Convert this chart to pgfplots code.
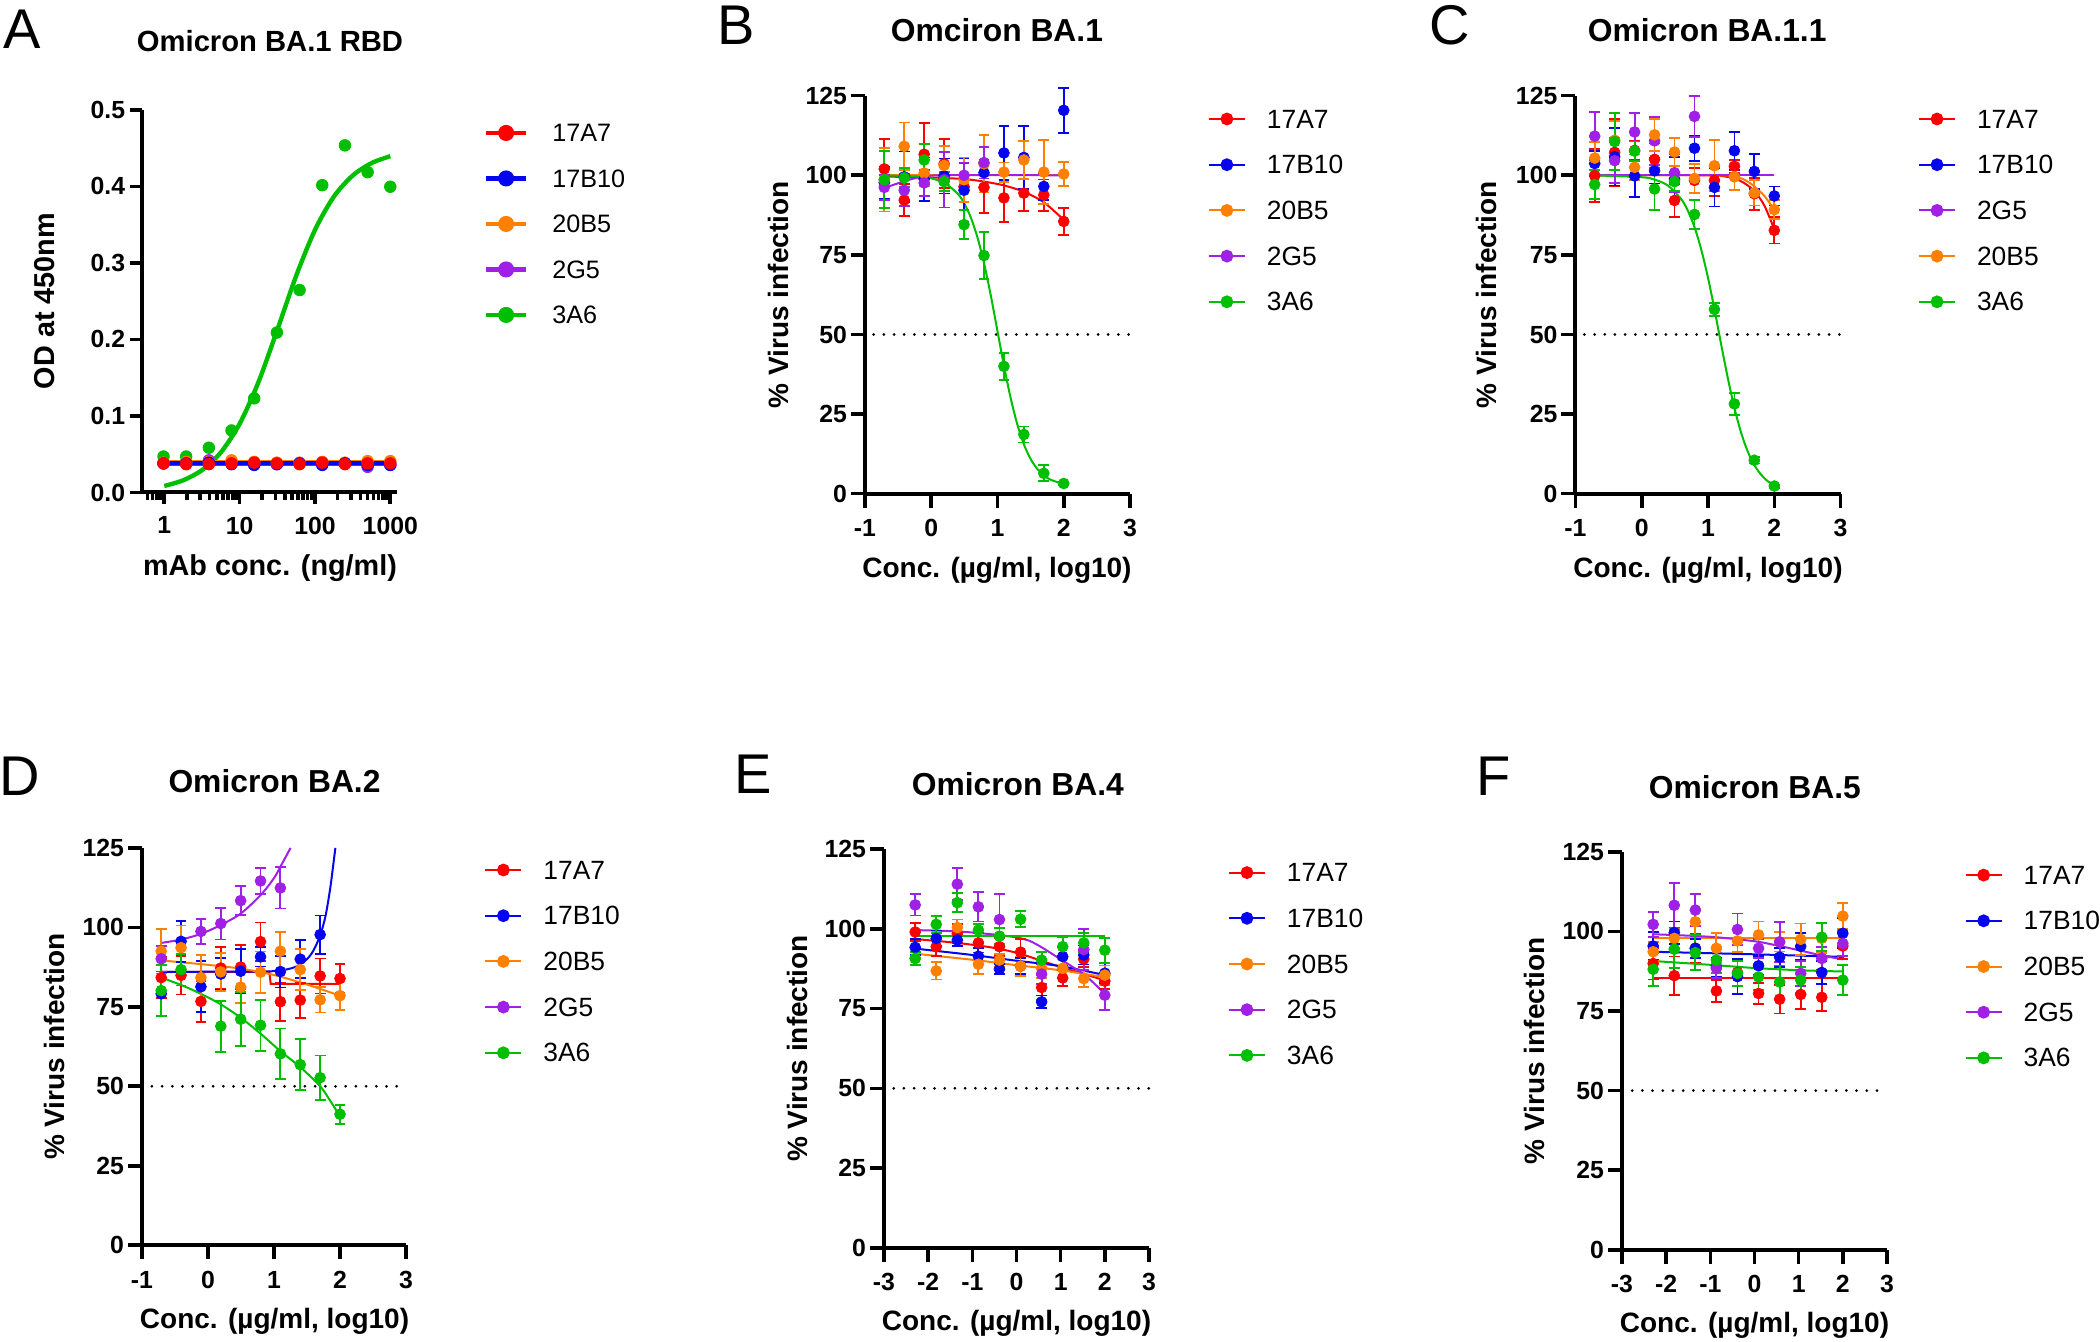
\documentclass[border=0pt]{standalone}
\usepackage{fontspec}
\setmainfont{Liberation Sans}
\usepackage{pgfplots}
\pgfplotsset{compat=1.18}
\definecolor{cR}{RGB}{255,0,0}
\definecolor{cB}{RGB}{5,5,240}
\definecolor{cO}{RGB}{255,128,0}
\definecolor{cP}{RGB}{160,32,230}
\definecolor{cG}{RGB}{0,190,0}
\pgfplotsset{
  base/.style={
    scale only axis, clip=false, anchor=south west,
    axis lines=left, axis line style={-, line width=2pt},
    tick align=outside, tick style={line width=1.8pt, black},
    /pgf/number format/assume math mode=true,
    ticklabel style={font=\bfseries\fontsize{12.4}{14}\selectfont},
    yticklabel style={xshift=1.5pt},
    xticklabel style={yshift=-2.4pt},
    xlabel style={font=\bfseries\fontsize{14}{16}\selectfont, anchor=center},
    ylabel style={font=\bfseries\fontsize{14}{16}\selectfont, anchor=center},
    title style={font=\bfseries\fontsize{15.9}{18}\selectfont, anchor=center},
    legend cell align=left,
    legend style={draw=none, fill=none, anchor=north west, inner sep=0pt, outer sep=0pt,
      row sep=13.85pt, column sep=10.5pt,
      nodes={inner sep=0pt, text height=9pt, text depth=0pt},
      font=\fontsize{13.2}{15}\selectfont},
    legend image code/.code={\draw[mark repeat=2,mark phase=2,##1] plot coordinates {(0pt,0pt) (9pt,0pt) (18pt,0pt)};},
  },
  neut/.style={base, xmin=-1, xmax=3, ymin=0, ymax=125,
    xtick={-1,0,1,2,3}, xticklabels={-1,0,1,2,3},
    ytick={0,25,50,75,100,125}, yticklabels={0,25,50,75,100,125},
    major tick length=7pt,
    xlabel={Conc. (µg/ml, log10)}, ylabel={\% Virus infection},
    width=132.5pt, height=199pt},
  pts/.style={only marks, mark=*, mark size=2.7pt, mark options={solid}, forget plot,
    error bars/y dir=both, error bars/y explicit,
    error bars/error bar style={line width=0.9pt, solid},
    error bars/error mark options={rotate=90, mark size=2.7pt, line width=0.9pt}},
  crv/.style={line width=1pt, no markers, forget plot},
  half/.style={black, line width=1.5pt, dash pattern=on 0pt off 5.1pt, line cap=round, forget plot, no markers},
  lg/.style={line width=1pt, mark=*, mark size=2.7pt, mark options={solid}},
}
\begin{document}
\begin{tikzpicture}
\useasboundingbox (0,0) rectangle (1050pt,671pt);
% panel letters
\node[font=\fontsize{28}{32}\selectfont] at (11pt,656.6pt) {A};
\node[font=\fontsize{28}{32}\selectfont] at (367.9pt,658.5pt) {B};
\node[font=\fontsize{28}{32}\selectfont] at (725pt,658.5pt) {C};
\node[font=\fontsize{28}{32}\selectfont] at (10pt,282.8pt) {D};
\node[font=\fontsize{28}{32}\selectfont] at (376.8pt,283.8pt) {E};
\node[font=\fontsize{28}{32}\selectfont] at (746.9pt,282.8pt) {F};

% ---------------- A ----------------
\begin{axis}[base, at={(71pt,424.75pt)}, width=127.5pt, height=191.35pt,
  xmode=log, xmin=0.506, xmax=1227, ymin=0, ymax=0.5,
  xtick={1,10,100,1000}, xticklabels={1,10,100,1000},
  minor xtick={0.6,0.7,0.8,0.9,2,3,4,5,6,7,8,9,20,30,40,50,60,70,80,90,200,300,400,500,600,700,800,900},
  ytick={0,0.1,0.2,0.3,0.4,0.5}, yticklabels={0.0,0.1,0.2,0.3,0.4,0.5},
  major tick length=6pt, minor tick length=4pt,
  yticklabel style={xshift=-0.4pt}, xticklabel style={yshift=-0.2pt},
  xlabel={mAb conc. (ng/ml)}, ylabel={OD at 450nm},
  xlabel style={at={(axis description cs:0.502,-0.198)}, font=\bfseries\fontsize{14.4}{16}\selectfont},
  ylabel style={at={(axis description cs:-0.382,0.5)}, font=\bfseries\fontsize{14.4}{16}\selectfont},
  title={Omicron BA.1 RBD}, title style={at={(0.502,1.147)}, font=\bfseries\fontsize{14.6}{17}\selectfont},
  legend style={at={(1.341,0.963)}, row sep=13.75pt, column sep=12pt, font=\fontsize{12.6}{15}\selectfont},
  legend image code/.code={\draw[mark repeat=2,mark phase=2,#1] plot coordinates {(0pt,0pt) (10pt,0pt) (20pt,0pt)};},
]
\addplot[cG, line width=2.2pt, smooth, no markers, forget plot] coordinates {(1,0.0085) (1.778,0.0159) (3.162,0.0292) (5.623,0.0523) (10,0.0897) (17.78,0.1442) (31.62,0.2124) (56.23,0.2829) (100,0.343) (177.8,0.3864) (316.2,0.414) (562.3,0.4303) (1000,0.4394)};
\addplot[cO, line width=2.2pt, no markers, forget plot] coordinates {(0.977,0.040) (1000,0.040)};
\addplot[cP, line width=2.2pt, no markers, forget plot] coordinates {(0.977,0.038) (1000,0.038)};
\addplot[cR, line width=2.2pt, no markers, forget plot] coordinates {(0.977,0.038) (1000,0.038)};
\addplot[cB, line width=2.2pt, no markers, forget plot] coordinates {(0.977,0.0382) (1000,0.0382)};
\addplot[cG, only marks, mark=*, mark size=2.9pt, forget plot] coordinates {(0.977,0.047) (1.953,0.047) (3.906,0.0585) (7.8125,0.081) (15.625,0.123) (31.25,0.209) (62.5,0.2645) (125,0.4015) (250,0.4535) (500,0.4185) (1000,0.3995)};
\addplot[cP, only marks, mark=*, mark size=2.9pt, forget plot] coordinates {(0.977,0.038) (1.953,0.039) (3.906,0.042) (7.8125,0.039) (15.625,0.037) (31.25,0.037) (62.5,0.038) (125,0.037) (250,0.038) (500,0.0335) (1000,0.036)};
\addplot[cO, only marks, mark=*, mark size=2.9pt, forget plot] coordinates {(0.977,0.039) (1.953,0.040) (3.906,0.040) (7.8125,0.042) (15.625,0.040) (31.25,0.039) (62.5,0.039) (125,0.040) (250,0.039) (500,0.041) (1000,0.041)};
\addplot[cB, only marks, mark=*, mark size=2.9pt, forget plot] coordinates {(0.977,0.038) (1.953,0.038) (3.906,0.039) (7.8125,0.037) (15.625,0.036) (31.25,0.037) (62.5,0.038) (125,0.036) (250,0.038) (500,0.036) (1000,0.036)};
\addplot[cR, only marks, mark=*, mark size=2.9pt, forget plot] coordinates {(0.977,0.038) (1.953,0.037) (3.906,0.037) (7.8125,0.038) (15.625,0.039) (31.25,0.038) (62.5,0.037) (125,0.039) (250,0.037) (500,0.038) (1000,0.038)};
\addlegendimage{cR, line width=2.2pt, mark=*, mark size=2.9pt}\addlegendentry{17A7}
\addlegendimage{cB, line width=2.2pt, mark=*, mark size=2.9pt}\addlegendentry{17B10}
\addlegendimage{cO, line width=2.2pt, mark=*, mark size=2.9pt}\addlegendentry{20B5}
\addlegendimage{cP, line width=2.2pt, mark=*, mark size=2.9pt}\addlegendentry{2G5}
\addlegendimage{cG, line width=2.2pt, mark=*, mark size=2.9pt}\addlegendentry{3A6}
\end{axis}

% ---------------- B ----------------
\begin{axis}[neut, at={(432.5pt,424.15pt)},
  title={Omciron BA.1}, title style={at={(0.498,1.135)}},
  xlabel style={at={(axis description cs:0.498,-0.192)}},
  ylabel style={at={(axis description cs:-0.328,0.5)}},
  legend style={at={(1.294,0.964)}}]
\addplot[half] coordinates {(-0.87,50) (3,50)};
\addplot[cR, crv, smooth] coordinates {(-0.709,99.6) (0,99.3) (0.5,98.8) (0.8,98.0) (1.1,96.8) (1.4,94.8) (1.7,91.5) (2.0,86)};
\addplot[cB, crv] coordinates {(-0.709,100) (2.0,100)};
\addplot[cO, crv] coordinates {(-0.709,100) (2.0,100)};
\addplot[cP, crv, smooth] coordinates {(-0.709,96) (-0.5,97.5) (-0.3,98.8) (-0.1,99.6) (0.2,100) (2.0,100)};
\addplot[cG, crv, smooth] coordinates {(-0.709,99.96) (-0.2,99.6) (0,99.03) (0.2,97.6) (0.4,94.2) (0.5,91.1) (0.6,86.6) (0.7,80.3) (0.8,72.1) (0.9,62.1) (1.0,51) (1.1,39.9) (1.2,29.9) (1.3,21.7) (1.4,15.4) (1.5,10.9) (1.6,7.8) (1.7,5.75) (1.8,4.4) (2.0,2.97)};
\addplot[cR, pts] coordinates {(-0.709,102.0) +- (0,9.3) (-0.408,92.2) +- (0,5) (-0.107,106.6) +- (0,9.7) (0.194,103.6) +- (0,7.7) (0.495,96.4) +- (0,7.3) (0.796,96.2) +- (0,8) (1.097,92.9) +- (0,7.6) (1.398,94.4) +- (0,5.5) (1.699,93.8) +- (0,4.9) (2.0,85.5) +- (0,4.3)};
\addplot[cB, pts] coordinates {(-0.709,97.7) +- (0,5) (-0.408,99.5) +- (0,8) (-0.107,98.8) +- (0,6.8) (0.194,99.8) +- (0,5.5) (0.495,95.3) +- (0,10) (0.796,100.8) +- (0,4) (1.097,107.0) +- (0,8.4) (1.398,105.6) +- (0,10) (1.699,96.5) +- (0,4.2) (2.0,120.4) +- (0,7)};
\addplot[cO, pts] coordinates {(-0.709,98.6) +- (0,10) (-0.408,109.1) +- (0,7.5) (-0.107,100.7) +- (0,4) (0.194,103.1) +- (0,6) (0.495,98.6) +- (0,7) (0.796,103.6) +- (0,9) (1.097,101.0) +- (0,3) (1.398,104.8) +- (0,6) (1.699,101.0) +- (0,10) (2.0,100.4) +- (0,3.8)};
\addplot[cP, pts] coordinates {(-0.709,96.2) +- (0,4) (-0.408,95.3) +- (0,5) (-0.107,97.6) +- (0,4) (0.194,98.6) +- (0,8.7) (0.495,100.0) +- (0,4) (0.796,104.0) +- (0,5)};
\addplot[cG, pts] coordinates {(-0.709,98.6) +- (0,9) (-0.408,99.2) +- (0,3) (-0.107,104.8) +- (0,5) (0.194,98.0) +- (0,3) (0.495,84.5) +- (0,4.5) (0.796,74.8) +- (0,7.4) (1.097,40.0) +- (0,4.3) (1.398,18.6) +- (0,2.5) (1.699,6.4) +- (0,2.5) (2.0,3.2) +- (0,0.5)};
\addlegendimage{cR, lg}\addlegendentry{17A7}
\addlegendimage{cB, lg}\addlegendentry{17B10}
\addlegendimage{cO, lg}\addlegendentry{20B5}
\addlegendimage{cP, lg}\addlegendentry{2G5}
\addlegendimage{cG, lg}\addlegendentry{3A6}
\end{axis}

% ---------------- C ----------------
\begin{axis}[neut, at={(787.7pt,424.15pt)}, width=132.6pt,
  title={Omicron BA.1.1}, title style={at={(0.497,1.135)}},
  xlabel style={at={(axis description cs:0.5,-0.192)}},
  ylabel style={at={(axis description cs:-0.334,0.5)}},
  legend style={at={(1.292,0.964)}}]
\addplot[half] coordinates {(-0.865,50) (3,50)};
\addplot[cR, crv, smooth] coordinates {(-0.709,100) (1.0,100) (1.2,99.8) (1.4,99) (1.55,97.5) (1.7,95) (1.85,90.5) (2.0,83)};
\addplot[cB, crv] coordinates {(-0.709,100) (2.0,100)};
\addplot[cO, crv, smooth] coordinates {(-0.709,100) (1.2,100) (1.4,99.6) (1.55,98.6) (1.7,96.5) (1.85,93.5) (2.0,89.2)};
\addplot[cP, crv] coordinates {(-0.709,100) (2.0,100)};
\addplot[cG, crv, smooth] coordinates {(-0.709,99.97) (0,99.4) (0.2,98.6) (0.4,96.7) (0.6,92.4) (0.7,88.7) (0.8,83.5) (0.9,76.5) (1.0,67.8) (1.1,57.6) (1.2,46.7) (1.3,36.2) (1.4,26.8) (1.5,19.1) (1.6,13.2) (1.7,8.96) (1.8,5.98) (1.9,3.94) (2.0,2.58)};
\addplot[cR, pts] coordinates {(-0.709,99.9) +- (0,8.3) (-0.408,107.2) +- (0,10.6) (-0.107,107.8) +- (0,3) (0.194,105.0) +- (0,5) (0.495,92.1) +- (0,5.2) (0.796,98.4) +- (0,4) (1.097,98.4) +- (0,5) (1.398,102.8) +- (0,2) (1.699,94.2) +- (0,5) (2.0,82.7) +- (0,4.1)};
\addplot[cB, pts] coordinates {(-0.709,103.7) +- (0,4) (-0.408,105.8) +- (0,9) (-0.107,99.8) +- (0,6.7) (0.194,101.4) +- (0,4) (0.495,98.8) +- (0,7) (0.796,108.5) +- (0,4) (1.097,96.2) +- (0,6) (1.398,107.7) +- (0,6) (1.699,101.2) +- (0,5.5) (2.0,93.5) +- (0,3)};
\addplot[cP, pts] coordinates {(-0.709,112.3) +- (0,7.5) (-0.408,104.6) +- (0,7) (-0.107,113.6) +- (0,6) (0.194,110.8) +- (0,7.5) (0.495,100.8) +- (0,6) (0.796,118.5) +- (0,6.5)};
\addplot[cO, pts] coordinates {(-0.709,105.4) +- (0,5) (-0.408,111.0) +- (0,6) (-0.107,102.5) +- (0,4) (0.194,112.7) +- (0,5) (0.495,107.3) +- (0,4.5) (0.796,99.0) +- (0,4.5) (1.097,103.0) +- (0,8) (1.398,99.5) +- (0,4) (1.699,94.5) +- (0,4) (2.0,89.2) +- (0,3)};
\addplot[cG, pts] coordinates {(-0.709,97.1) +- (0,4.5) (-0.408,110.6) +- (0,9) (-0.107,107.6) +- (0,3) (0.194,95.7) +- (0,6.5) (0.495,98.0) +- (0,3) (0.796,87.7) +- (0,4.5) (1.097,57.9) +- (0,2) (1.398,28.2) +- (0,3.5) (1.699,10.5) +- (0,1) (2.0,2.4) +- (0,0.5)};
\addlegendimage{cR, lg}\addlegendentry{17A7}
\addlegendimage{cB, lg}\addlegendentry{17B10}
\addlegendimage{cP, lg}\addlegendentry{2G5}
\addlegendimage{cO, lg}\addlegendentry{20B5}
\addlegendimage{cG, lg}\addlegendentry{3A6}
\end{axis}

% ---------------- D ----------------
\begin{axis}[neut, at={(71pt,48.4pt)}, width=132pt, height=198.65pt,
  title={Omicron BA.2}, title style={at={(0.502,1.137)}},
  xlabel style={at={(axis description cs:0.502,-0.1925)}},
  ylabel style={at={(axis description cs:-0.331,0.5)}},
  legend style={at={(1.297,0.967)}}]
\addplot[half] coordinates {(-0.85,50) (3,50)};
\addplot[cR, crv] coordinates {(-0.709,86) (0.93,86) (0.95,82.2) (2.0,82.2)};
\addplot[cB, crv, smooth] coordinates {(-0.709,86) (0.8,86.1) (1.0,86.3) (1.2,86.8) (1.35,87.8) (1.5,90) (1.6,92.8) (1.7,97.5) (1.78,103.5) (1.85,112) (1.9,120) (1.93,125)};
\addplot[cO, crv, smooth] coordinates {(-0.709,89.6) (0,88.2) (0.5,87) (1.0,85) (1.5,82) (2.0,78.5)};
\addplot[cP, crv, smooth] coordinates {(-0.709,95.1) (-0.4,96.2) (-0.1,98) (0.2,100.8) (0.5,104.4) (0.8,110.2) (1.0,115.5) (1.1,119.2) (1.2,123) (1.25,125)};
\addplot[cG, crv, smooth] coordinates {(-0.709,84.2) (-0.4,81.8) (-0.1,79) (0.2,75.7) (0.5,71.5) (0.8,66.5) (1.1,61) (1.4,56) (1.7,50) (1.85,45.5) (2.0,40.5)};
\addplot[cR, pts] coordinates {(-0.709,84.2) +- (0,6.5) (-0.408,84.9) +- (0,6) (-0.107,76.7) +- (0,6.5) (0.194,87.2) +- (0,6.5) (0.495,87.5) +- (0,7) (0.796,95.5) +- (0,6) (1.097,76.6) +- (0,6) (1.398,77.1) +- (0,5.5) (1.699,84.7) +- (0,5.5) (2.0,83.9) +- (0,4.5)};
\addplot[cB, pts] coordinates {(-0.709,79.1) +- (0,7) (-0.408,95.6) +- (0,6.5) (-0.107,81.3) +- (0,8) (0.194,85.3) +- (0,5) (0.495,86.2) +- (0,7) (0.796,90.7) +- (0,3) (1.097,86.1) +- (0,5) (1.398,90.0) +- (0,6) (1.699,97.7) +- (0,6)};
\addplot[cO, pts] coordinates {(-0.709,92.5) +- (0,7) (-0.408,93.6) +- (0,7) (-0.107,84.2) +- (0,7) (0.194,86.0) +- (0,6) (0.495,81.2) +- (0,5) (0.796,85.9) +- (0,6.5) (1.097,92.5) +- (0,6) (1.398,86.7) +- (0,6.5) (1.699,77.2) +- (0,4) (2.0,78.5) +- (0,4.5)};
\addplot[cP, pts] coordinates {(-0.709,90.1) +- (0,4) (-0.107,98.7) +- (0,4) (0.194,101.2) +- (0,5) (0.495,108.4) +- (0,4.5) (0.796,114.6) +- (0,4) (1.097,112.4) +- (0,6.5)};
\addplot[cG, pts] coordinates {(-0.709,80.1) +- (0,8) (-0.408,86.7) +- (0,5) (0.194,68.9) +- (0,8) (0.495,71.1) +- (0,8.5) (0.796,69.2) +- (0,8) (1.097,60.2) +- (0,8) (1.398,56.8) +- (0,8) (1.699,52.7) +- (0,7) (2.0,41.2) +- (0,3)};
\addlegendimage{cR, lg}\addlegendentry{17A7}
\addlegendimage{cB, lg}\addlegendentry{17B10}
\addlegendimage{cO, lg}\addlegendentry{20B5}
\addlegendimage{cP, lg}\addlegendentry{2G5}
\addlegendimage{cG, lg}\addlegendentry{3A6}
\end{axis}

% ---------------- E ----------------
\begin{axis}[neut, at={(442pt,47.1pt)}, height=199.35pt,
  xmin=-3, xmax=3, xtick={-3,-2,-1,0,1,2,3}, xticklabels={-3,-2,-1,0,1,2,3},
  title={Omicron BA.4}, title style={at={(0.505,1.134)}},
  xlabel style={at={(axis description cs:0.5,-0.19)}},
  ylabel style={at={(axis description cs:-0.327,0.5)}},
  legend style={at={(1.298,0.9636)}}]
\addplot[half] coordinates {(-2.78,50) (3,50)};
\addplot[cR, crv, smooth] coordinates {(-2.294,96.8) (-1.5,95.8) (-1,95) (-0.5,94) (0,92.5) (0.5,90.3) (1,88) (1.5,86) (2,83.8)};
\addplot[cB, crv, smooth] coordinates {(-2.294,93.8) (-1,91.8) (0,90) (1,88.3) (2,85.5)};
\addplot[cO, crv, smooth] coordinates {(-2.294,92.2) (-1,90.3) (0,88.6) (1,87) (2,84.8)};
\addplot[cP, crv, smooth] coordinates {(-2.294,99.6) (-1.34,99.2) (-0.5,98.2) (0,97.3) (0.3,96.2) (0.57,94.2) (0.8,92.2) (1.05,90) (1.3,87.8) (1.52,85.8) (1.75,83) (2.0,79.6)};
\addplot[cG, crv] coordinates {(-2.294,97.8) (2.0,97.8)};
\addplot[cR, pts] coordinates {(-2.294,99.0) +- (0,2.8) (-1.817,94.4) +- (0,2.8) (-1.340,98.5) +- (0,3) (-0.863,95.6) +- (0,3) (-0.386,94.4) +- (0,2.8) (0.092,92.7) +- (0,4) (0.569,81.6) +- (0,3.8) (1.046,84.6) +- (0,2.5) (1.523,90.5) +- (0,2.5) (2.0,83.6) +- (0,2.5)};
\addplot[cB, pts] coordinates {(-2.294,94.2) +- (0,2.5) (-1.817,97.0) +- (0,2.5) (-1.340,96.5) +- (0,2) (-0.863,91.4) +- (0,2.5) (-0.386,87.4) +- (0,1.5) (0.092,88.3) +- (0,2.5) (0.569,77.1) +- (0,2) (1.046,91.3) +- (0,3) (1.523,91.8) +- (0,3) (2.0,86.1) +- (0,3)};
\addplot[cO, pts] coordinates {(-2.294,90.7) +- (0,2) (-1.817,86.8) +- (0,2.7) (-1.340,100.4) +- (0,2.5) (-0.863,88.9) +- (0,3) (-0.386,90.2) +- (0,2) (0.092,88.3) +- (0,3) (0.569,87.6) +- (0,3) (1.046,87.6) +- (0,3) (1.523,84.4) +- (0,2.7) (2.0,85.5) +- (0,3)};
\addplot[cP, pts] coordinates {(-2.294,107.5) +- (0,3.3) (-1.340,114.0) +- (0,5) (-0.863,106.9) +- (0,4.6) (-0.386,102.9) +- (0,7.9) (0.569,85.8) +- (0,3) (1.523,93.5) +- (0,6.5) (2.0,79.2) +- (0,4.7)};
\addplot[cG, pts] coordinates {(-2.294,90.7) +- (0,2) (-1.817,101.4) +- (0,2.6) (-1.340,108.2) +- (0,3) (-0.863,99.6) +- (0,2) (-0.386,97.7) +- (0,2.5) (0.092,103.0) +- (0,2.5) (0.569,90.2) +- (0,2.5) (1.046,94.4) +- (0,3) (1.523,95.6) +- (0,3) (2.0,93.3) +- (0,3.9)};
\addlegendimage{cR, lg}\addlegendentry{17A7}
\addlegendimage{cB, lg}\addlegendentry{17B10}
\addlegendimage{cO, lg}\addlegendentry{20B5}
\addlegendimage{cP, lg}\addlegendentry{2G5}
\addlegendimage{cG, lg}\addlegendentry{3A6}
\end{axis}

% ---------------- F ----------------
\begin{axis}[neut, at={(811pt,46.1pt)},
  xmin=-3, xmax=3, xtick={-3,-2,-1,0,1,2,3}, xticklabels={-3,-2,-1,0,1,2,3},
  title={Omicron BA.5}, title style={at={(0.5015,1.132)}},
  xlabel style={at={(axis description cs:0.5,-0.19)}},
  ylabel style={at={(axis description cs:-0.332,0.5)}},
  legend style={at={(1.293,0.964)}}]
\addplot[half] coordinates {(-2.77,50) (3,50)};
\addplot[cR, crv] coordinates {(-2.294,85.4) (2,85.4)};
\addplot[cB, crv] coordinates {(-2.294,93.6) (0,92.8) (2,92.0)};
\addplot[cO, crv] coordinates {(-2.294,97.8) (2,97.8)};
\addplot[cP, crv, smooth] coordinates {(-2.294,99.1) (-1,98.3) (0,96.9) (0.5,95.6) (1,94.1) (1.5,92.5) (2,91.2)};
\addplot[cG, crv, smooth] coordinates {(-2.294,90.7) (-1,89.5) (0,88.5) (1,87.8) (2,87.4)};
\addplot[cR, pts] coordinates {(-2.294,89.9) +- (0,5) (-1.817,86.1) +- (0,6) (-1.340,94.7) +- (0,4.5) (-0.863,81.3) +- (0,3.4) (-0.386,87.1) +- (0,4.2) (0.092,80.5) +- (0,3.2) (0.569,78.7) +- (0,4.5) (1.046,80.2) +- (0,4.7) (1.523,79.3) +- (0,4.2) (2.0,95.4) +- (0,4)};
\addplot[cB, pts] coordinates {(-2.294,95.4) +- (0,4.5) (-1.817,99.6) +- (0,3.5) (-1.340,94.7) +- (0,3) (-0.863,88.8) +- (0,3) (-0.386,85.8) +- (0,5.5) (0.092,89.2) +- (0,3) (0.569,91.9) +- (0,3) (1.046,95.3) +- (0,4.2) (1.523,87.1) +- (0,3.5) (2.0,99.4) +- (0,4.7)};
\addplot[cO, pts] coordinates {(-2.294,93.6) +- (0,3) (-1.817,97.8) +- (0,3) (-1.340,103.0) +- (0,4) (-0.863,94.7) +- (0,4.7) (-0.386,97.0) +- (0,3.5) (0.092,98.9) +- (0,4.2) (0.569,96.7) +- (0,3) (1.046,97.5) +- (0,5) (1.523,97.8) +- (0,4.7) (2.0,104.8) +- (0,4)};
\addplot[cP, pts] coordinates {(-2.294,102.2) +- (0,4) (-1.817,108.2) +- (0,7) (-1.340,106.7) +- (0,5) (-0.863,88.4) +- (0,3) (-0.386,100.6) +- (0,5) (0.092,94.7) +- (0,3) (0.569,96.7) +- (0,6.3) (1.046,86.8) +- (0,4) (1.523,91.5) +- (0,3.5) (2.0,96.2) +- (0,4)};
\addplot[cG, pts] coordinates {(-2.294,88.1) +- (0,5.2) (-1.817,94.4) +- (0,6) (-1.340,93.3) +- (0,5.5) (-0.863,91.0) +- (0,4) (-0.386,86.8) +- (0,4) (0.092,85.7) +- (0,4) (0.569,84.1) +- (0,5.2) (1.046,84.7) +- (0,4) (1.523,98.2) +- (0,4.4) (2.0,84.7) +- (0,4.7)};
\addlegendimage{cR, lg}\addlegendentry{17A7}
\addlegendimage{cB, lg}\addlegendentry{17B10}
\addlegendimage{cO, lg}\addlegendentry{20B5}
\addlegendimage{cP, lg}\addlegendentry{2G5}
\addlegendimage{cG, lg}\addlegendentry{3A6}
\end{axis}
\end{tikzpicture}
\end{document}
